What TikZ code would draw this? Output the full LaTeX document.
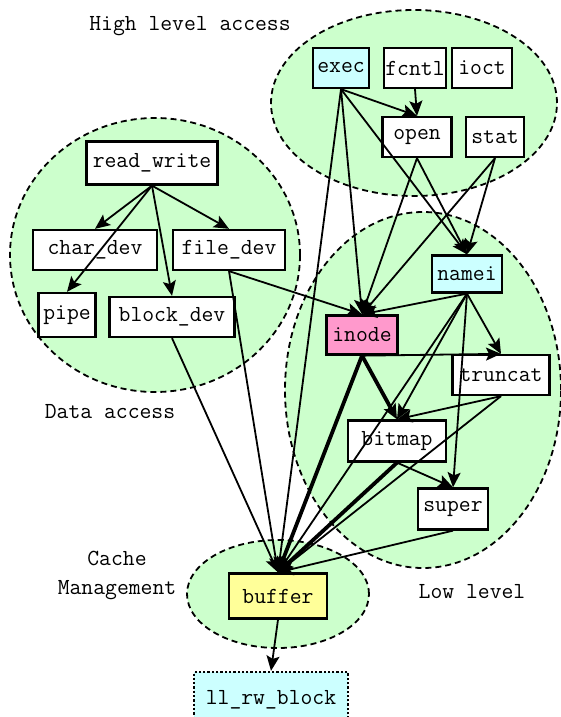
\documentclass[tikz,border=0pt]{standalone}
\usetikzlibrary{arrows.meta}
\definecolor{grpgreen}{HTML}{CCFFCC}
\definecolor{lightcyan}{HTML}{CCFFFF}
\definecolor{pinkfill}{HTML}{FF99CC}
\definecolor{yellowfill}{HTML}{FFFF99}
\begin{document}
\begin{tikzpicture}[x=1pt,y=-1pt,
  font=\fontsize{23}{27}\selectfont\ttfamily,
  box/.style={draw, line width=2.3pt, fill=white, inner sep=0pt, minimum height=40pt},
  group/.style={draw, line width=1.8pt, dash pattern=on 6pt off 4pt},
  edge/.style={line width=1.8pt, -{Stealth[length=15pt,width=13pt,inset=3pt]}},
  heavy/.style={edge, line width=3.8pt},
  lbl/.style={inner sep=0pt}]
\useasboundingbox (0,0) rectangle (560,717);

% group backgrounds
\fill[grpgreen] (414,103) ellipse [x radius=143pt, y radius=93pt];
\fill[grpgreen] (155,255) ellipse [x radius=145pt, y radius=137pt];
\fill[grpgreen] (423,390) ellipse [x radius=138pt, y radius=178pt];
\fill[grpgreen] (278,594) ellipse [x radius=91pt, y radius=54pt];
\draw[group] (414,103) ellipse [x radius=143pt, y radius=93pt];
\draw[group] (155,255) ellipse [x radius=145pt, y radius=137pt];
\draw[group] (423,390) ellipse [x radius=138pt, y radius=178pt];
\draw[group] (278,594) ellipse [x radius=91pt, y radius=54pt];

% group labels
\node[lbl] (lhigh) at (190,26) {High level access};
\node[lbl] (ldata) at (110,412) {Data access};
\node[lbl] (lcache1) at (117,558) {Cache};
\node[lbl] (lcache2) at (117,590) {Management};
\node[lbl] (llow) at (472,592) {Low level};

% high level access
\node[box, fill=lightcyan, minimum width=56pt] (exec) at (341,68) {exec};
\node[box, minimum width=62pt] (fcntl) at (415,68) {fcntl};
\node[box, minimum width=60pt] (ioct) at (482,68) {ioct};
\node[box, minimum width=69pt] (open) at (417,137) {open};
\node[box, minimum width=58pt] (stat) at (495,137) {stat};

% data access
\node[box, minimum width=131pt, minimum height=43pt] (rw) at (152,163) {read\_write};
\node[box, minimum width=124pt] (chardev) at (95,250) {char\_dev};
\node[box, minimum width=112pt] (filedev) at (229,250) {file\_dev};
\node[box, minimum width=57pt, minimum height=44pt] (pipe) at (67,315) {pipe};
\node[box, minimum width=125pt] (blockdev) at (172,317) {block\_dev};

% low level
\node[box, fill=lightcyan, minimum width=70pt, minimum height=37pt] (namei) at (467,274) {namei};
\node[box, fill=pinkfill, minimum width=71pt, minimum height=39pt] (inode) at (362,335) {inode};
\node[box, minimum width=97pt] (truncat) at (501,375) {truncat};
\node[box, minimum width=98pt, minimum height=41pt] (bitmap) at (397,441) {bitmap};
\node[box, minimum width=70pt, minimum height=41pt] (super) at (453,509) {super};

% cache management
\node[box, fill=yellowfill, minimum width=98pt, minimum height=45pt] (buffer) at (278,596) {buffer};
\node[box, fill=lightcyan, dotted, minimum width=154pt, minimum height=56pt] (llrw) at (271,700) {ll\_rw\_block};

% calls
\draw[edge] (exec.south) -- (open.north);
\draw[edge] (fcntl.south) -- (open.north);
\draw[edge] (exec.south) -- (namei.north);
\draw[edge] (exec.south) -- (inode.north);
\draw[edge] (exec.south) -- (buffer.north);
\draw[edge] (open.south) -- (inode.north);
\draw[edge] (open.south) -- (namei.north);
\draw[edge] (stat.south) -- (inode.north);
\draw[edge] (stat.south) -- (namei.north);

\draw[edge] (rw.south) -- (chardev.north);
\draw[edge] (rw.south) -- (filedev.north);
\draw[edge] (rw.south) -- (pipe.north);
\draw[edge] (rw.south) -- (blockdev.north);
\draw[edge] (filedev.south) -- (inode.north);
\draw[edge] (filedev.south) -- (buffer.north);
\draw[edge] (blockdev.south) -- (buffer.north);

\draw[edge] (namei.south) -- (inode.north);
\draw[edge] (namei.south) -- (truncat.north);
\draw[edge] (namei.south) -- (bitmap.north);
\draw[edge] (namei.south) -- (buffer.north);
\draw[edge] (namei.south) -- (super.north);
\draw[edge] (inode.south) -- (truncat.north);
\draw[heavy] (inode.south) -- (bitmap.north);
\draw[heavy] (inode.south) -- (buffer.north);
\draw[edge] (truncat.south) -- (bitmap.north);
\draw[edge] (truncat.south) -- (buffer.north);
\draw[edge] (bitmap.south) -- (super.north);
\draw[heavy] (bitmap.south) -- (buffer.north);
\draw[edge] (super.south) -- (buffer.north);

\draw[edge] (buffer.south) -- (llrw.north);
\end{tikzpicture}
\end{document}
